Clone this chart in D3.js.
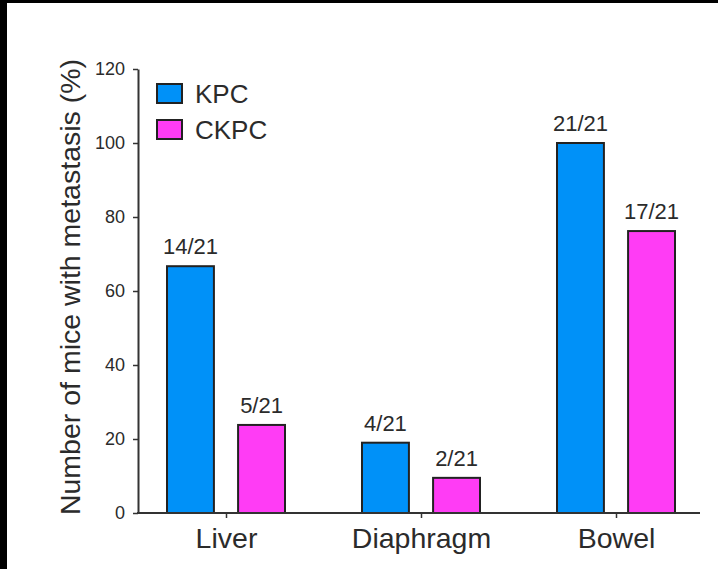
<!DOCTYPE html>
<html>
<head>
<meta charset="utf-8">
<script src="https://cdn.jsdelivr.net/npm/d3@7"></script>
<style>
  html, body { margin: 0; padding: 0; background: #fff; }
  svg { display: block; }
  text { font-family: "Liberation Sans", Arial, Helvetica, sans-serif; fill: #2b2b2b; }
</style>
</head>
<body>
<svg id="chart" width="718" height="569"></svg>
<script>
const categories = ["Liver", "Diaphragm", "Bowel"];
const series = ["KPC", "CKPC"];
const kpcValues = [66.7, 19.0, 100];
const ckpcValues = [23.8, 9.5, 76.2];
const kpcLabels = ["14/21", "4/21", "21/21"];
const ckpcLabels = ["5/21", "2/21", "17/21"];
const yTicks = [0, 20, 40, 60, 80, 100, 120];
const colors = { KPC: "#0091f8", CKPC: "#ff3cf5" };

const svg = d3.select("#chart");

// frame (black edges of the reference photo)
svg.append("rect").attr("x", 0).attr("y", 0).attr("width", 718).attr("height", 569).attr("fill", "#fff");
svg.append("rect").attr("x", 0).attr("y", 0).attr("width", 7).attr("height", 569).attr("fill", "#000");
svg.append("rect").attr("x", 0).attr("y", 0).attr("width", 718).attr("height", 3).attr("fill", "#000");

const axisX = 138, axisRight = 700;
const y = d3.scaleLinear().domain([0, 120]).range([513, 69]);
const x0 = d3.scaleBand().domain(categories).range([129, 714]).paddingInner(0).paddingOuter(0);
const x1 = d3.scaleBand().domain(series).range([38, 156]).paddingInner(0.34).paddingOuter(0);

const data = categories.map((c, i) => ({
  cat: c,
  vals: [
    { s: "KPC", v: kpcValues[i], label: kpcLabels[i] },
    { s: "CKPC", v: ckpcValues[i], label: ckpcLabels[i] }
  ]
}));

// y axis
const yAxis = d3.axisLeft(y).tickValues(yTicks).tickSize(5).tickSizeOuter(0).tickPadding(8);
const gy = svg.append("g").attr("transform", `translate(${axisX},0)`).call(yAxis);
gy.select(".domain").attr("stroke", "#333").attr("stroke-width", 2);
gy.selectAll(".tick line").attr("stroke", "#333").attr("stroke-width", 1.5);
gy.selectAll(".tick text").style("font-size", "18px").attr("fill", "#4a4a4a")
  .style("font-family", "'Liberation Sans', Arial, sans-serif");

// bars
const groups = svg.selectAll("g.grp").data(data).enter().append("g")
  .attr("class", "grp")
  .attr("transform", d => `translate(${x0(d.cat)},0)`);

groups.selectAll("rect").data(d => d.vals).enter().append("rect")
  .attr("x", d => x1(d.s))
  .attr("width", x1.bandwidth())
  .attr("y", d => y(d.v))
  .attr("height", d => y(0) - y(d.v))
  .attr("fill", d => colors[d.s])
  .attr("stroke", "#222")
  .attr("stroke-width", 2);

groups.selectAll("text.lbl").data(d => d.vals).enter().append("text")
  .attr("class", "lbl")
  .attr("x", d => x1(d.s) + x1.bandwidth() / 2)
  .attr("y", d => y(d.v) - 12)
  .attr("text-anchor", "middle")
  .style("font-size", "22px")
  .text(d => d.label);

// x axis
svg.append("line").attr("x1", axisX - 1).attr("x2", axisRight)
  .attr("y1", y(0)).attr("y2", y(0)).attr("stroke", "#333").attr("stroke-width", 2);
const xAxis = d3.axisBottom(x0).tickSize(5).tickSizeOuter(0).tickPadding(10);
const gx = svg.append("g").attr("transform", `translate(0,${y(0)})`).call(xAxis);
gx.select(".domain").remove();
gx.selectAll(".tick line").attr("stroke", "#333").attr("stroke-width", 1.5);
gx.selectAll(".tick text").style("font-size", "28.5px").attr("fill", "#2b2b2b")
  .style("font-family", "'Liberation Sans', Arial, sans-serif");

// y title
svg.append("text")
  .attr("transform", `translate(70,${(y(0) + y(120)) / 2 - 4}) rotate(-90)`)
  .attr("text-anchor", "middle")
  .attr("dominant-baseline", "central")
  .style("font-size", "28.5px")
  .text("Number of mice with metastasis (%)");

// legend
const legend = svg.append("g").selectAll("g").data(series).enter().append("g")
  .attr("transform", (d, i) => `translate(157,${84 + i * 36})`);
legend.append("rect").attr("width", 25).attr("height", 19)
  .attr("fill", d => colors[d]).attr("stroke", "#222").attr("stroke-width", 2);
legend.append("text").attr("x", 38).attr("y", 10).attr("dominant-baseline", "central")
  .style("font-size", "26px").text(d => d);
</script>
</body>
</html>
